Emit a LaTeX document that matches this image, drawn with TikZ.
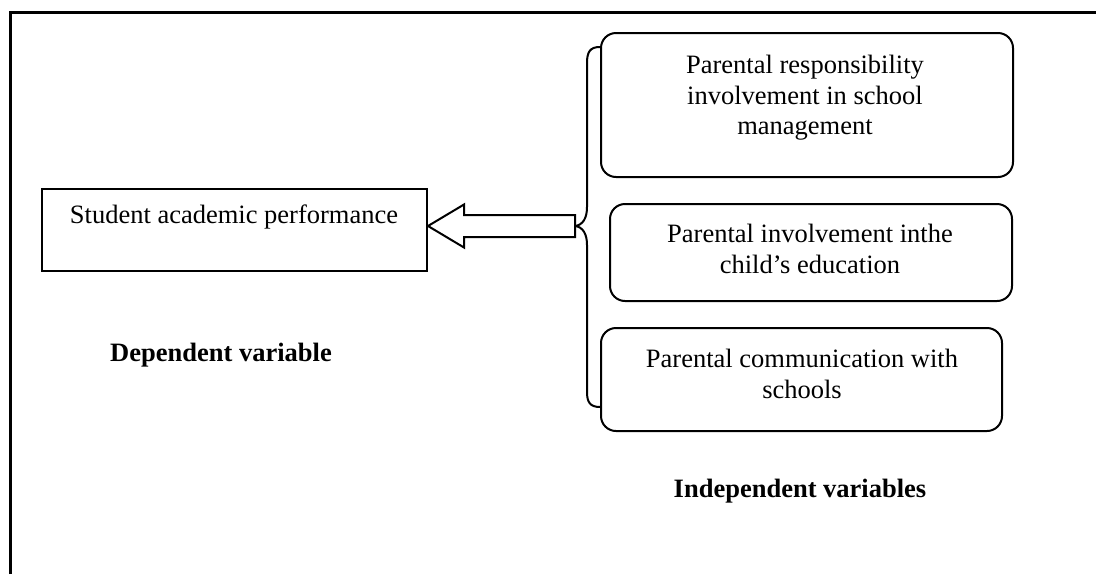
\documentclass[tikz,border=0pt]{standalone}
\usepackage{fontspec}
\setmainfont{Liberation Serif}
\usetikzlibrary{calc}
\tikzset{
  boxline/.style={draw=black, line width=2pt},
  sqbox/.style={boxline, rectangle, inner sep=0pt},
  rbox/.style={boxline, rectangle, rounded corners=15pt, inner sep=0pt},
  txt/.style={inner sep=0pt, align=center, font=\fontsize{26.5pt}{30.5pt}\selectfont},
  btxt/.style={inner sep=0pt, font=\fontsize{26.5pt}{30.5pt}\selectfont\bfseries},
  bracestyle/.style={draw=black, line width=2pt},
  blockarrow/.style={draw=black, line width=2pt, fill=white, line join=miter},
}
\begin{document}
\begin{tikzpicture}[x=1pt, y=-1pt]
\useasboundingbox (0,0) rectangle (1096,574);
% frame (top and left sides)
\draw[line width=3pt] (10.5,574) -- (10.5,12.5) -- (1096,12.5);

% boxes
\node[sqbox, minimum width=385pt, minimum height=82pt] (dep) at (234.5,230) {};
\node[rbox, minimum width=412pt, minimum height=144pt] (b1) at (807,105) {};
\node[rbox, minimum width=402pt, minimum height=97pt] (b2) at (811,252.5) {};
\node[rbox, minimum width=401pt, minimum height=103pt] (b3) at (801.5,379.5) {};

% texts
\node[txt, anchor=base] (deptxt) at (234,223) {Student academic performance};
\node[txt, anchor=north] (b1txt) at (805,55) {Parental responsibility\\involvement in school\\management};
\node[txt, anchor=north] (b2txt) at (810,224) {Parental involvement inthe\\child’s education};
\node[txt, anchor=north] (b3txt) at (802,349) {Parental communication with\\schools};
\node[btxt, anchor=base] (deplab) at (221,361) {Dependent variable};
\node[btxt, anchor=base] (indlab) at (800,497) {Independent variables};

% brace
\coordinate (btip) at (575,226);
\coordinate (btop) at (b1.west |- 0,47);
\coordinate (bbot) at (b3.west |- 0,407);
\draw[bracestyle] (btop) .. controls (590,47) and (587,52) .. (587,63)
  -- (587,207) .. controls (587,218) and (583,225) .. (btip)
  .. controls (583,227) and (587,234) .. (587,245)
  -- (587,392) .. controls (587,402) and (590,407) .. (bbot);

% block arrow
\coordinate (atip) at (dep.east |- btip);
\draw[blockarrow] (atip) -- ($(atip)+(36,-21.5)$) -- ($(atip)+(36,-11)$)
  -- ($(btip)+(0,-11)$) -- ($(btip)+(0,11)$) -- ($(atip)+(36,11)$)
  -- ($(atip)+(36,21.5)$) -- cycle;
\end{tikzpicture}
\end{document}
